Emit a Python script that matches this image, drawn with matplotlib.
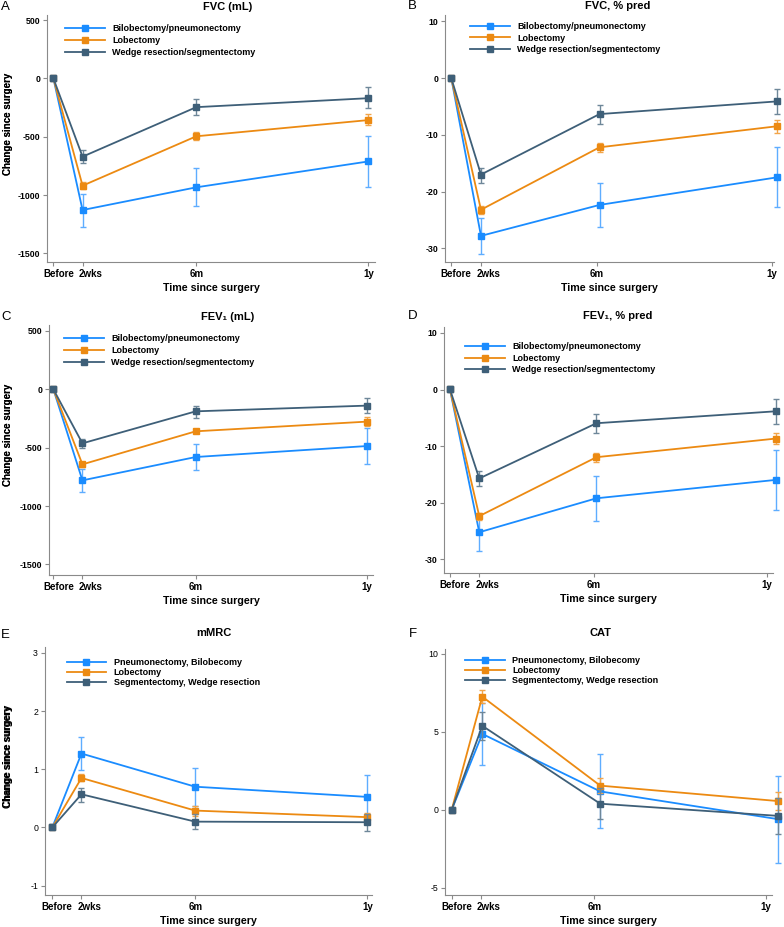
import numpy as np
import matplotlib
matplotlib.use('Agg')
import matplotlib.pyplot as plt
from matplotlib.transforms import ScaledTranslation

plt.rcParams['font.family'] = ['Liberation Sans', 'DejaVu Sans']
plt.rcParams['axes.unicode_minus'] = False

# time points on the x axis
time_labels = ['Before', '2wks', '6m', '1y']
time_pos = [0, 1, 4.9, 10.8]

legend_lung = ['Bilobectomy/pneumonectomy', 'Lobectomy', 'Wedge resection/segmentectomy']
legend_symp = ['Pneumonectomy, Bilobecomy', 'Lobectomy', 'Segmentectomy, Wedge resection']

# A: FVC (mL)   mean, lower CI, upper CI per group (bilo/pneumo, lobe, wedge/segment)
fvc_ml_x = [0, 1, 4.9, 10.8]
fvc_ml_big = [0, -1129, -934, -712]
fvc_ml_big_lo = [0, -1271, -1098, -930]
fvc_ml_big_hi = [0, -994, -771, -496]
fvc_ml_lob = [0, -920, -496, -357]
fvc_ml_lob_lo = [0, -950, -530, -403]
fvc_ml_lob_hi = [0, -890, -462, -309]
fvc_ml_wed = [0, -671, -246, -169]
fvc_ml_wed_lo = [0, -728, -317, -257]
fvc_ml_wed_hi = [0, -614, -180, -77]

# B: FVC, % pred
fvc_pp_x = [0, 1, 4.99, 10.95]
fvc_pp_big = [0, -27.8, -22.35, -17.5]
fvc_pp_big_lo = [0, -31.0, -26.2, -22.7]
fvc_pp_big_hi = [0, -24.7, -18.5, -12.2]
fvc_pp_lob = [0, -23.2, -12.2, -8.5]
fvc_pp_lob_lo = [0, -23.9, -13.1, -9.6]
fvc_pp_lob_hi = [0, -22.5, -11.5, -7.4]
fvc_pp_wed = [0, -17.0, -6.35, -4.12]
fvc_pp_wed_lo = [0, -18.4, -8.06, -6.3]
fvc_pp_wed_hi = [0, -15.8, -4.77, -1.95]

# C: FEV1 (mL)
fev_ml_x = [0, 1, 4.9, 10.8]
fev_ml_big = [0, -780, -580, -486]
fev_ml_big_lo = [0, -878, -694, -637]
fev_ml_big_hi = [0, -686, -469, -334]
fev_ml_lob = [0, -643, -360, -277]
fev_ml_lob_lo = [0, -665, -378, -314]
fev_ml_lob_hi = [0, -621, -342, -240]
fev_ml_wed = [0, -463, -189, -140]
fev_ml_wed_lo = [0, -503, -246, -203]
fev_ml_wed_hi = [0, -423, -143, -77]

# D: FEV1, % pred
fev_pp_x = [0, 1, 4.99, 11.1]
fev_pp_big = [0.1, -25.2, -19.2, -15.95]
fev_pp_big_lo = [0.1, -28.5, -23.2, -21.3]
fev_pp_big_hi = [0.1, -22.0, -15.2, -10.6]
fev_pp_lob = [0.1, -22.35, -11.94, -8.65]
fev_pp_lob_lo = [0.1, -22.95, -12.8, -9.65]
fev_pp_lob_hi = [0.1, -21.75, -11.2, -7.6]
fev_pp_wed = [0.1, -15.7, -5.94, -3.83]
fev_pp_wed_lo = [0.1, -17.06, -7.65, -6.06]
fev_pp_wed_hi = [0.1, -14.35, -4.3, -1.71]

# E: mMRC
mmrc_x = [0, 1, 4.9, 10.8]
mmrc_big = [0, 1.27, 0.70, 0.525]
mmrc_big_lo = [0, 0.98, 0.37, 0.17]
mmrc_big_hi = [0, 1.55, 1.02, 0.90]
mmrc_lob = [0, 0.85, 0.29, 0.177]
mmrc_lob_lo = [0, 0.79, 0.205, 0.125]
mmrc_lob_hi = [0, 0.91, 0.365, 0.24]
mmrc_wed = [0, 0.57, 0.10, 0.09]
mmrc_wed_lo = [0, 0.44, -0.03, -0.065]
mmrc_wed_hi = [0, 0.68, 0.23, 0.23]

# F: CAT
cat_x = [0, 1.05, 5.1, 11.2]
cat_big = [0, 4.87, 1.18, -0.6]
cat_big_lo = [0, 2.85, -1.2, -3.43]
cat_big_hi = [0, 6.87, 3.56, 2.17]
cat_lob = [0, 7.26, 1.55, 0.56]
cat_lob_lo = [0, 6.87, 1.07, -0.04]
cat_lob_hi = [0, 7.7, 2.04, 1.14]
cat_wed = [0, 5.39, 0.39, -0.39]
cat_wed_lo = [0, 4.5, -0.6, -1.55]
cat_wed_hi = [0, 6.27, 1.4, 0.77]

COLORS = ['#1a8cff', '#ec8a12', '#3e5f78']
ERR_COLORS = ['#5eadff', '#f2a54a', '#6e8799']

W, H = 784, 927

# Before / 2wks labels sit a bit right of their ticks (pixels)
LABEL_SHIFT = [5, 8, 0, 0]


def px_axes(fig, l, r, t, b):
    return fig.add_axes([l / W, 1 - b / H, (r - l) / W, (b - t) / H])


def draw_panel(fig, ax, x, groups, labels, yticks, ylim, xlim, bold_y=True,
               leg_xy=(0.055, 0.955), leg_space=0.3, ylab_x=-0.104):
    x = np.array(x)
    for i, (m, lo, hi) in enumerate(groups):
        m = np.array(m); lo = np.array(lo); hi = np.array(hi)
        ax.errorbar(x[1:], m[1:], yerr=[m[1:] - lo[1:], hi[1:] - m[1:]], fmt='none',
                    ecolor=ERR_COLORS[i], elinewidth=1.0, capsize=2.2, capthick=1.0,
                    zorder=2 + i, clip_on=False)
        ax.plot(x, m, color=COLORS[i], lw=1.3, marker='s', ms=3.9, label=labels[i],
                zorder=3 + i, clip_on=False)
    ax.set_xlim(*xlim)
    ax.set_ylim(*ylim)
    ax.set_xticks(time_pos)
    ax.set_xticklabels(time_labels, fontsize=7.0, fontweight='bold')
    ax.set_yticks(yticks)
    ax.set_yticklabels([str(v) for v in yticks], fontsize=6.3,
                       fontweight='bold' if bold_y else 'normal')
    for s in ['top', 'right']:
        ax.spines[s].set_visible(False)
    for s in ['left', 'bottom']:
        ax.spines[s].set_color('#8a8a8a')
        ax.spines[s].set_linewidth(0.8)
    ax.tick_params(direction='out', length=3, width=0.8, color='#8a8a8a', pad=2)
    # shift after tick_params, which resets the label transforms
    for lab, dx in zip(ax.get_xticklabels(), LABEL_SHIFT):
        lab.set_transform(lab.get_transform() + ScaledTranslation(dx / 100, 0, fig.dpi_scale_trans))
    ax.set_xlabel('Time since surgery', fontsize=7.7, fontweight='bold', labelpad=3)
    ax.set_ylabel('Change since surgery', fontsize=7.0, fontweight='bold')
    ax.yaxis.set_label_coords(ylab_x, 0.56)
    ax.legend(loc='upper left', bbox_to_anchor=leg_xy, frameon=False,
              prop={'size': 6.5, 'weight': 'bold'}, handlelength=4.4, handletextpad=0.8,
              labelspacing=leg_space, borderpad=0, borderaxespad=0)


fig = plt.figure(figsize=(W / 100, H / 100), dpi=100)

panels = [
    # (l, r, t, b), x, groups, labels, yticks, ylim, xlim, title, letter, title pos, letter pos, bold y, legend anchor
    ((47, 375, 15, 262), fvc_ml_x,
     [(fvc_ml_big, fvc_ml_big_lo, fvc_ml_big_hi), (fvc_ml_lob, fvc_ml_lob_lo, fvc_ml_lob_hi),
      (fvc_ml_wed, fvc_ml_wed_lo, fvc_ml_wed_hi)],
     legend_lung, [-1500, -1000, -500, 0, 500], (-1575, 545), (-0.22, 11.03),
     'FVC (mL)', 'A', (228, 7), (1, 7), True, (0.055, 0.962)),
    ((445, 774, 15, 262), fvc_pp_x,
     [(fvc_pp_big, fvc_pp_big_lo, fvc_pp_big_hi), (fvc_pp_lob, fvc_pp_lob_lo, fvc_pp_lob_hi),
      (fvc_pp_wed, fvc_pp_wed_lo, fvc_pp_wed_hi)],
     legend_lung, [-30, -20, -10, 0, 10], (-32.4, 11.1), (-0.21, 10.86),
     'FVC, % pred', 'B', (618, 6), (408, 6), True, (0.076, 0.972)),
    ((49, 373, 325, 575), fev_ml_x,
     [(fev_ml_big, fev_ml_big_lo, fev_ml_big_hi), (fev_ml_lob, fev_ml_lob_lo, fev_ml_lob_hi),
      (fev_ml_wed, fev_ml_wed_lo, fev_ml_wed_hi)],
     legend_lung, [-1500, -1000, -500, 0, 500], (-1590, 550), (-0.15, 11.0),
     'FEV\u2081 (mL)', 'C', (228, 317), (1, 317), True, (0.047, 0.963)),
    ((444, 773, 327, 573), fev_pp_x,
     [(fev_pp_big, fev_pp_big_lo, fev_pp_big_hi), (fev_pp_lob, fev_pp_lob_lo, fev_pp_lob_hi),
      (fev_pp_wed, fev_pp_wed_lo, fev_pp_wed_hi)],
     legend_lung, [-30, -20, -10, 0, 10], (-32.4, 11.06), (-0.2, 11.0),
     'FEV\u2081, % pred', 'D', (618, 316), (408, 316), True, (0.064, 0.939)),
    ((45, 372, 647, 895), mmrc_x,
     [(mmrc_big, mmrc_big_lo, mmrc_big_hi), (mmrc_lob, mmrc_lob_lo, mmrc_lob_hi),
      (mmrc_wed, mmrc_wed_lo, mmrc_wed_hi)],
     legend_symp, [-1, 0, 1, 2, 3], (-1.16, 3.1), (-0.25, 10.96),
     'mMRC', 'E', (214, 633), (1, 635), False, (0.066, 0.957)),
    ((445, 772, 649, 895), cat_x,
     [(cat_big, cat_big_lo, cat_big_hi), (cat_lob, cat_lob_lo, cat_lob_hi),
      (cat_wed, cat_wed_lo, cat_wed_hi)],
     legend_symp, [-5, 0, 5, 10], (-5.47, 10.32), (-0.23, 11.0),
     'CAT', 'F', (600, 633), (409, 634), False, (0.062, 0.972)),
]

for box, x, groups, labels, yticks, ylim, xlim, title, letter, tpos, lpos, bold_y, leg_xy in panels:
    ax = px_axes(fig, *box)
    ylab_x = -(box[0] - 13) / (box[1] - box[0])
    space = 0.12 if letter in ('E', 'F') else 0.3
    draw_panel(fig, ax, x, groups, labels, yticks, ylim, xlim, bold_y,
               leg_xy=leg_xy, leg_space=space, ylab_x=ylab_x)
    fig.text(tpos[0] / W, 1 - tpos[1] / H, title, ha='center', va='center',
             fontsize=8, fontweight='bold')
    fig.text(lpos[0] / W, 1 - lpos[1] / H, letter, ha='left', va='center', fontsize=9.5)

fig.savefig('out.png', dpi=100)
